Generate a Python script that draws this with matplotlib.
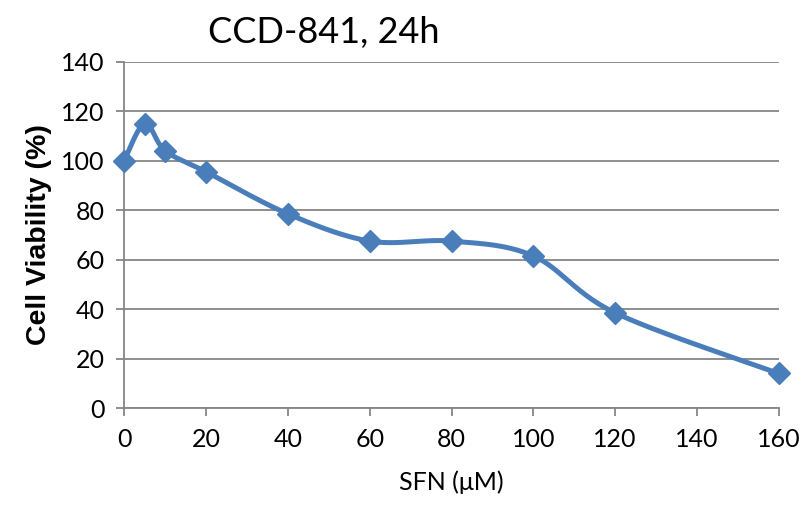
import numpy as np
import matplotlib.pyplot as plt

sfn_um = [0, 5, 10, 20, 40, 60, 80, 100, 120, 160]
viability = [100, 115, 104, 95.5, 78.5, 67.5, 67.5, 61.5, 38.5, 14]
yticks = [0, 20, 40, 60, 80, 100, 120, 140]
xticks = [0, 20, 40, 60, 80, 100, 120, 140, 160]


def smooth(x, y, n=30):
    # Excel-style smoothed line: cubic Bezier with Catmull-Rom control points
    x = np.asarray(x, float)
    y = np.asarray(y, float)
    px = np.concatenate([[x[0]], x, [x[-1]]])
    py = np.concatenate([[y[0]], y, [y[-1]]])
    xs, ys = [], []
    t = np.linspace(0, 1, n)
    for i in range(1, len(px) - 2):
        p0 = np.array([px[i], py[i]])
        p3 = np.array([px[i + 1], py[i + 1]])
        c1 = p0 + (np.array([px[i + 1], py[i + 1]]) - np.array([px[i - 1], py[i - 1]])) / 6
        c2 = p3 - (np.array([px[i + 2], py[i + 2]]) - np.array([px[i], py[i]])) / 6
        b = ((1 - t)**3)[:, None] * p0 + (3 * (1 - t)**2 * t)[:, None] * c1 \
            + (3 * (1 - t) * t**2)[:, None] * c2 + (t**3)[:, None] * p3
        xs.extend(b[:, 0])
        ys.extend(b[:, 1])
    return xs, ys


plt.rcParams['font.family'] = ['Lato', 'DejaVu Sans']
fig = plt.figure(figsize=(8.07, 5.14), dpi=100)
ax = fig.add_axes([0.154, 0.206, 0.811, 0.674])

grey = '#868686'
blue = '#4A7EBB'

sx, sy = smooth(sfn_um, viability)
ax.plot(sx, sy, color=blue, lw=3.6, solid_capstyle='round', zorder=3, clip_on=False)
ax.plot(sfn_um, viability, linestyle='none', marker='D', markersize=11,
        color=blue, zorder=4, clip_on=False)

ax.set_xlim(0, 160)
ax.set_ylim(0, 140)
ax.set_xticks(xticks)
ax.set_yticks(yticks)
ax.tick_params(labelsize=18, color=grey, length=6, width=1.3, direction='out', pad=8)
ax.yaxis.grid(True, color=grey, lw=1.3)
ax.set_axisbelow(True)
for s in ['top', 'right']:
    ax.spines[s].set_visible(False)
for s in ['left', 'bottom']:
    ax.spines[s].set_color(grey)
    ax.spines[s].set_linewidth(1.3)

ax.set_xlabel('SFN (μM)', fontsize=18, labelpad=14)
ax.set_ylabel('Cell Viability (%)', fontsize=20.5, fontweight='bold',
              family=['Liberation Sans', 'DejaVu Sans'], labelpad=7)
fig.text(324 / 807, 1 - 32 / 514, 'CCD-841, 24h', fontsize=26, ha='center', va='center')

fig.savefig('out.png', dpi=100)
